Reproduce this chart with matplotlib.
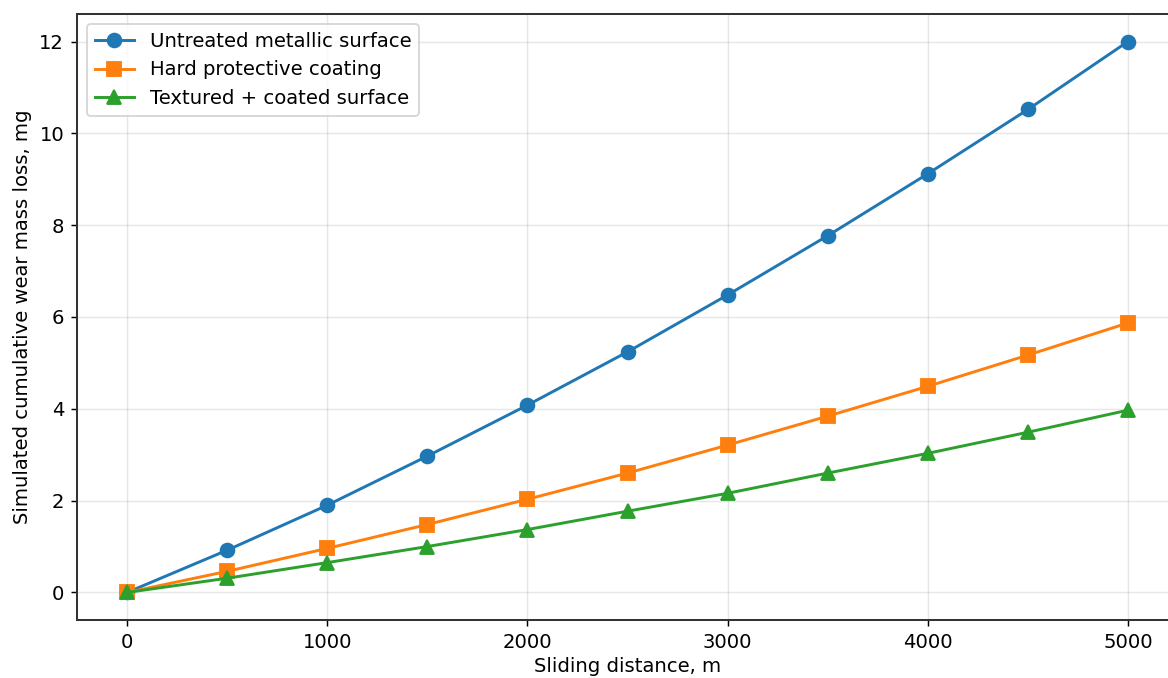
import matplotlib.pyplot as plt
import numpy as np

# Sliding distance, m
distance = [0, 500, 1000, 1500, 2000, 2500, 3000, 3500, 4000, 4500, 5000]

# Cumulative wear mass loss, mg
untreated = [0, 0.92, 1.90, 2.97, 4.08, 5.24, 6.48, 7.77, 9.12, 10.52, 12.0]
hard_coat = [0, 0.46, 0.96, 1.48, 2.03, 2.60, 3.21, 3.84, 4.49, 5.17, 5.87]
textured = [0, 0.31, 0.65, 1.00, 1.37, 1.77, 2.16, 2.60, 3.03, 3.49, 3.97]

labels = ["Untreated metallic surface", "Hard protective coating",
          "Textured + coated surface"]

plt.rcParams.update({'font.size': 10.7})

dpi = 132
fig = plt.figure(figsize=(1168 / dpi, 678 / dpi), dpi=dpi)
# axes run a little past the right edge, like the cropped original
ax = fig.add_axes([77 / 1168, 58 / 678, 1101 / 1168, 606 / 678])

ax.plot(distance, untreated, marker="o", markersize=7.5, lw=1.6, label=labels[0])
ax.plot(distance, hard_coat, marker="s", markersize=7.5, lw=1.6, label=labels[1])
ax.plot(distance, textured, marker="^", markersize=7.5, lw=1.6, label=labels[2])

ax.set_xlabel("Sliding distance, m", labelpad=3)
ax.set_ylabel("Simulated cumulative wear mass loss, mg")
ax.grid(True, alpha=0.3)
ax.legend(loc="upper left")

for s in ax.spines.values():
    s.set_color("#333333")
    s.set_linewidth(1.1)

plt.savefig("out.png", dpi=dpi)
